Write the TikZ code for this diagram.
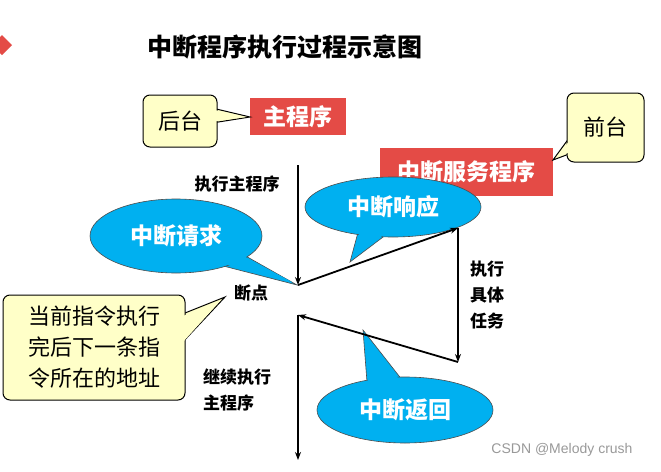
\documentclass[tikz,border=0pt]{standalone}
\usepackage{fontspec}
\newfontfamily\cjk{Noto Sans CJK SC}
\setsansfont{Liberation Sans}
\usetikzlibrary{arrows.meta,shapes.geometric}
\definecolor{rbox}{RGB}{228,75,70}
\definecolor{cyanb}{RGB}{0,176,240}
\definecolor{ylw}{RGB}{255,255,200}
\tikzset{
 redbox/.style={fill=rbox,text=white,font=\cjk\bfseries\fontsize{23}{26}\selectfont,inner sep=0pt},
 lbl/.style={font=\cjk\bfseries\fontsize{17}{20}\selectfont,align=left},
 bubble/.style={fill=cyanb,draw=black!70,line width=0.6pt},
 btext/.style={font=\cjk\bfseries\fontsize{23}{26}\selectfont,text=white},
 note/.style={fill=ylw,draw=black,line width=1pt,rounded corners=7pt},
 flow/.style={line width=1.8pt,-{Stealth[length=8pt,width=6pt]}},
}
\begin{document}
\begin{tikzpicture}[x=1pt,y=-1pt]
\useasboundingbox (0,0) rectangle (661,471);
\fill[white] (0,0) rectangle (661,471);
\fill[rbox] (-8,45) -- (2,35) -- (12,45) -- (2,55) -- cycle;
\node[font=\cjk\bfseries\fontsize{25}{28}\selectfont] (title) at (285,47) {中断程序执行过程示意图};
% red boxes
\node[redbox,minimum width=96pt,minimum height=37pt] (main) at (298,116.5) {主程序};
\node[redbox,minimum width=173pt,minimum height=48pt] (isr) at (466.5,172) {中断服务程序};
% yellow notes
\draw[line width=1pt,fill=ylw] (212,108) -- (250,117) -- (212,123) -- cycle;
\node[note,minimum width=74pt,minimum height=52pt,font=\cjk\fontsize{22}{25}\selectfont] (bg) at (180,121) {后台};
\fill[ylw] (210,109) -- (246,117) -- (210,122) -- cycle;
\draw[line width=1pt,fill=ylw] (575,130) -- (553,160) -- (585,148) -- cycle;
\node[note,minimum width=77pt,minimum height=69pt,font=\cjk\fontsize{22}{25}\selectfont] (fg) at (605.5,127.5) {前台};
\fill[ylw] (576,132) -- (557,157) -- (586,146) -- cycle;
\draw[line width=1pt,fill=ylw] (180,315) -- (225,297) -- (180,345) -- cycle;
\node[note,minimum width=182pt,minimum height=105pt,font=\cjk\fontsize{22}{31}\selectfont,align=left] (addr) at (94,347.5) {当前指令执行\\完后下一条指\\令所在的地址};
\fill[ylw] (183,316) -- (220,301) -- (183,342) -- cycle;
% flow coordinates
\coordinate (top) at (298,165);
\coordinate (bp) at (298,285);
\coordinate (resp) at (458,228);
\coordinate (ret) at (458,362);
\coordinate (back) at (298,315);
\coordinate (bottom) at (298,460);
% bubbles
\draw[bubble] (235,250) -- (297,285) -- (200,260) -- cycle;
\node[bubble,ellipse,minimum width=172pt,minimum height=74pt,btext] (req) at (176,236) {中断请求};
\fill[cyanb] (236,252) -- (292,282) -- (205,259) -- cycle;
\draw[bubble] (360,225) -- (350,262) -- (395,228) -- cycle;
\node[bubble,ellipse,minimum width=176pt,minimum height=60pt,btext] (rsp) at (393,207) {中断响应};
\fill[cyanb] (361,228) -- (352,257) -- (392,229) -- cycle;
\draw[bubble] (368,395) -- (363,330) -- (410,390) -- cycle;
\node[bubble,ellipse,minimum width=176pt,minimum height=66pt,btext] (rtn) at (405,410) {中断返回};
\fill[cyanb] (369,392) -- (365,335) -- (407,390) -- cycle;
% flow arrows
\draw[flow] (top) -- (bp);
\draw[flow] (bp) -- (resp);
\draw[flow] (resp) -- (ret);
\draw[flow] (ret) -- (back);
\draw[flow] (back) -- (bottom);
% labels
\node[lbl] (l1) at (237,184) {执行主程序};
\node[lbl] (l2) at (251,293) {断点};
\node[lbl,font=\cjk\bfseries\fontsize{17}{26}\selectfont] (l3) at (487,295) {执行\\具体\\任务};
\node[lbl,font=\cjk\bfseries\fontsize{17}{26}\selectfont] (l4) at (237,390) {继续执行\\主程序};
\node[font=\sffamily\fontsize{14}{16}\selectfont,text=black!40] (wm) at (562,450) {CSDN @Melody crush};
\end{tikzpicture}
\end{document}
